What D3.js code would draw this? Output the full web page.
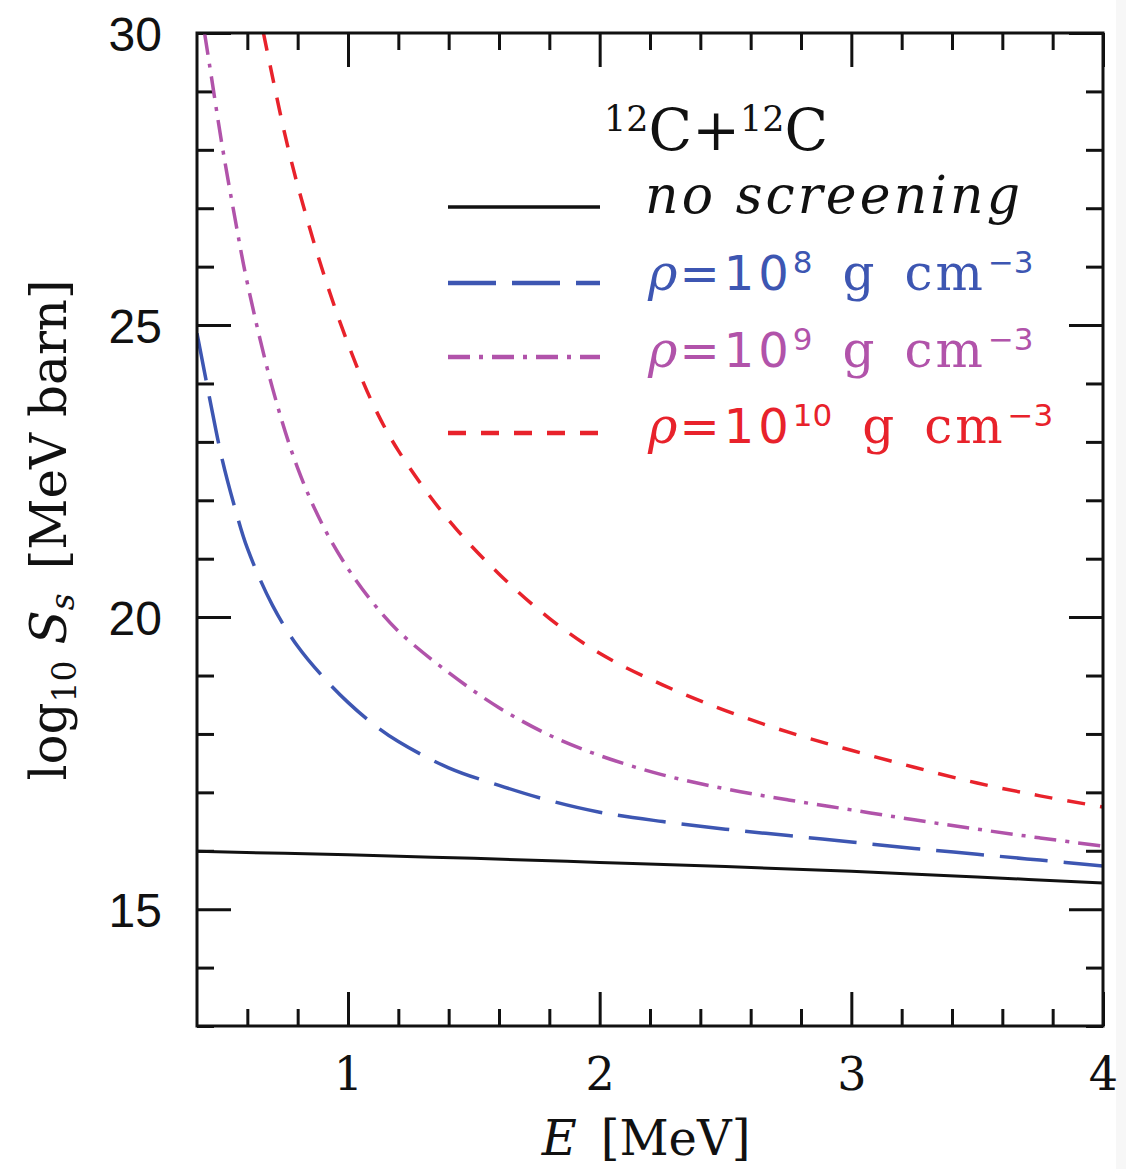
<!DOCTYPE html>
<html>
<head>
<meta charset="utf-8">
<script src="https://cdn.jsdelivr.net/npm/d3@7"></script>
<style>
  body { margin: 0; background: #fff; }
  svg { display: block; }
</style>
</head>
<body>
<svg id="chart" width="1126" height="1169"></svg>
<script>
// Astrophysical S-factor of 12C+12C with and without plasma screening.
// Energies in MeV, values are log10 S_s in MeV barn.
const eNoScreen = [0.4, 1.0, 1.5, 2.0, 2.5, 3.0, 3.5, 4.0];
const sNoScreen = [15.99, 15.93, 15.87, 15.80, 15.73, 15.65, 15.55, 15.45];

const eRho8 = [0.4, 0.45, 0.5, 0.55, 0.6, 0.7, 0.8, 0.9, 1.0, 1.1, 1.2, 1.4, 1.6, 1.8, 2.0, 2.25, 2.5, 2.75, 3.0, 3.25, 3.5, 3.75, 4.0];
const sRho8 = [24.86, 23.75, 22.70, 21.88, 21.18, 20.20, 19.50, 18.98, 18.54, 18.17, 17.87, 17.42, 17.12, 16.86, 16.66, 16.50, 16.37, 16.26, 16.15, 16.04, 15.94, 15.84, 15.74];

const eRho9 = [0.43, 0.45, 0.5, 0.55, 0.6, 0.7, 0.8, 0.9, 1.0, 1.1, 1.2, 1.4, 1.6, 1.8, 2.0, 2.25, 2.5, 2.75, 3.0, 3.25, 3.5, 3.75, 4.0];
const sRho9 = [30.0, 29.45, 28.07, 26.85, 25.72, 23.92, 22.55, 21.57, 20.83, 20.24, 19.76, 19.05, 18.45, 17.98, 17.63, 17.30, 17.06, 16.87, 16.70, 16.53, 16.37, 16.22, 16.08];

const eRho10 = [0.664, 0.7, 0.75, 0.8, 0.9, 1.0, 1.1, 1.2, 1.4, 1.6, 1.8, 2.0, 2.25, 2.5, 2.75, 3.0, 3.25, 3.5, 3.75, 4.0];
const sRho10 = [30.0, 29.25, 28.25, 27.39, 25.92, 24.68, 23.64, 22.85, 21.66, 20.74, 19.98, 19.38, 18.84, 18.40, 18.03, 17.72, 17.43, 17.16, 16.94, 16.75];

// Axis ticks
const xTickLabels = [1, 2, 3, 4];
const xMinorTicks = [0.6, 0.8, 1.2, 1.4, 1.6, 1.8, 2.2, 2.4, 2.6, 2.8, 3.2, 3.4, 3.6, 3.8];
const yTickLabels = [15, 20, 25, 30];
const yMinorTicks = [13, 14, 16, 17, 18, 19, 21, 22, 23, 24, 26, 27, 28, 29];

// Legend entries: density exponents of rho (g cm^-3)
const densityExponents = ["8", "9", "10"];

const SERIF = "'DejaVu Serif', serif";
const SANS = "'Liberation Sans', Arial, sans-serif";
const DSANS = "'DejaVu Sans', sans-serif";

const W = 1126, H = 1169;
const svg = d3.select("#chart");

svg.append("rect").attr("width", W).attr("height", H).attr("fill", "#fff");
svg.append("rect").attr("x", 1116).attr("width", W - 1116).attr("height", H).attr("fill", "#f7f7f7");

const box = { left: 197, right: 1103, top: 33, bottom: 1026 };
const x = d3.scaleLinear().domain([0.4, 4]).range([box.left, box.right]);
const y = d3.scaleLinear().domain([13, 30]).range([box.bottom, box.top]);

const MAJOR = 34, MINOR = 17;

function styleAxis(g) {
  g.select(".domain").remove();
  g.selectAll(".tick line").attr("stroke", "#111").attr("stroke-width", 3);
}

// bottom axis with labels
svg.append("g")
  .attr("transform", `translate(0,${box.bottom})`)
  .call(d3.axisBottom(x).tickValues(xTickLabels).tickSize(-MAJOR).tickPadding(31).tickFormat(d3.format("d")))
  .call(styleAxis)
  .call(g => g.selectAll("text").attr("font-family", SERIF).attr("font-size", 46).attr("fill", "#111"));
svg.append("g")
  .attr("transform", `translate(0,${box.bottom})`)
  .call(d3.axisBottom(x).tickValues(xMinorTicks).tickSize(-MINOR).tickFormat(""))
  .call(styleAxis);

// top axis (ticks only)
svg.append("g")
  .attr("transform", `translate(0,${box.top})`)
  .call(d3.axisTop(x).tickValues(xTickLabels).tickSize(-MAJOR).tickFormat(""))
  .call(styleAxis);
svg.append("g")
  .attr("transform", `translate(0,${box.top})`)
  .call(d3.axisTop(x).tickValues(xMinorTicks).tickSize(-MINOR).tickFormat(""))
  .call(styleAxis);

// left axis with labels
svg.append("g")
  .attr("transform", `translate(${box.left},0)`)
  .call(d3.axisLeft(y).tickValues(yTickLabels).tickSize(-MAJOR).tickPadding(35).tickFormat(d3.format("d")))
  .call(styleAxis)
  .call(g => g.selectAll("text").attr("font-family", SANS).attr("font-size", 48).attr("fill", "#111").attr("dy", "0.36em"));
svg.append("g")
  .attr("transform", `translate(${box.left},0)`)
  .call(d3.axisLeft(y).tickValues(yMinorTicks).tickSize(-MINOR).tickFormat(""))
  .call(styleAxis);

// right axis (ticks only)
svg.append("g")
  .attr("transform", `translate(${box.right},0)`)
  .call(d3.axisRight(y).tickValues(yTickLabels).tickSize(-MAJOR).tickFormat(""))
  .call(styleAxis);
svg.append("g")
  .attr("transform", `translate(${box.right},0)`)
  .call(d3.axisRight(y).tickValues(yMinorTicks).tickSize(-MINOR).tickFormat(""))
  .call(styleAxis);

// curves
const series = [
  { e: eNoScreen, s: sNoScreen, color: "#111111", dash: null, width: 3 },
  { e: eRho8, s: sRho8, color: "#3d56b2", dash: "48,16", width: 3.5 },
  { e: eRho9, s: sRho9, color: "#b153aa", dash: "22,9,4,9", width: 3.5 },
  { e: eRho10, s: sRho10, color: "#e8222b", dash: "18,15", width: 3.5 }
];

svg.append("clipPath").attr("id", "plot-clip")
  .append("rect")
  .attr("x", box.left).attr("y", box.top)
  .attr("width", box.right - box.left).attr("height", box.bottom - box.top);

const line = d3.line()
  .x(d => x(d[0]))
  .y(d => y(d[1]))
  .curve(d3.curveCatmullRom.alpha(0.5));

svg.append("g").attr("clip-path", "url(#plot-clip)")
  .selectAll("path")
  .data(series)
  .join("path")
  .attr("d", d => line(d.e.map((v, i) => [v, d.s[i]])))
  .attr("fill", "none")
  .attr("stroke", d => d.color)
  .attr("stroke-width", d => d.width)
  .attr("stroke-dasharray", d => d.dash);

// frame
svg.append("rect")
  .attr("x", box.left).attr("y", box.top)
  .attr("width", box.right - box.left).attr("height", box.bottom - box.top)
  .attr("fill", "none").attr("stroke", "#111").attr("stroke-width", 3);

// legend title: 12C + 12C
const title = svg.append("text")
  .attr("x", 604).attr("y", 150)
  .attr("font-family", SERIF).attr("font-size", 57).attr("fill", "#111");
title.append("tspan").attr("font-size", 35).attr("dy", -19).text("12");
title.append("tspan").attr("dy", 19).text("C+");
title.append("tspan").attr("font-size", 35).attr("dy", -19).text("12");
title.append("tspan").attr("dy", 19).text("C");

// legend rows
const legendY = [207, 283, 357, 433];
const legendBase = [213, 290, 367, 443];
const legend = svg.append("g");

series.forEach((d, i) => {
  legend.append("line")
    .attr("x1", 448).attr("x2", 600)
    .attr("y1", legendY[i]).attr("y2", legendY[i])
    .attr("stroke", d.color)
    .attr("stroke-width", i === 0 ? 3.5 : 4.5)
    .attr("stroke-dasharray", d.dash);
});

legend.append("text")
  .attr("x", 645).attr("y", legendBase[0])
  .attr("font-family", SERIF).attr("font-style", "italic").attr("font-size", 52)
  .attr("fill", "#111")
  .attr("textLength", 375).attr("lengthAdjust", "spacing")
  .text("no screening");

densityExponents.forEach((exp, k) => {
  const d = series[k + 1];
  const yb = legendBase[k + 1];
  const t1 = legend.append("text").attr("x", 648).attr("y", yb).attr("fill", d.color);
  t1.append("tspan").attr("font-family", SERIF).attr("font-style", "italic").attr("font-size", 50).text("ρ");
  t1.append("tspan").attr("font-family", DSANS).attr("font-size", 48).attr("letter-spacing", 4).attr("dx", 2).text("=10");
  t1.append("tspan").attr("font-family", DSANS).attr("font-size", 31).attr("dy", -17).attr("dx", 0).text(exp);
  const b1 = t1.node().getBBox();

  const t2 = legend.append("text").attr("x", b1.x + b1.width + 30).attr("y", yb)
    .attr("fill", d.color).attr("font-family", SERIF).attr("font-size", 50).text("g");
  const b2 = t2.node().getBBox();

  const t3 = legend.append("text").attr("x", b2.x + b2.width + 30).attr("y", yb).attr("fill", d.color);
  t3.append("tspan").attr("font-family", SERIF).attr("font-size", 50).attr("letter-spacing", 3).text("cm");
  t3.append("tspan").attr("font-family", DSANS).attr("font-size", 31).attr("dy", -17).attr("dx", 2).text("−3");
});

// axis titles
const xt = svg.append("text")
  .attr("x", 646).attr("y", 1155).attr("text-anchor", "middle")
  .attr("font-family", SERIF).attr("font-size", 48).attr("fill", "#111");
xt.append("tspan").attr("font-style", "italic").text("E");
xt.append("tspan").attr("dx", 24).text("[MeV]");

const yt = svg.append("text")
  .attr("transform", "translate(66,530) rotate(-90)")
  .attr("text-anchor", "middle")
  .attr("font-family", SERIF).attr("font-size", 50).attr("fill", "#111");
yt.append("tspan").text("log");
yt.append("tspan").attr("font-size", 33).attr("dy", 10).text("10");
yt.append("tspan").attr("font-style", "italic").attr("dy", -10).attr("dx", 16).text("S");
yt.append("tspan").attr("font-style", "italic").attr("font-size", 33).attr("dy", 8).text("s");
yt.append("tspan").attr("dy", -8).attr("dx", 24).text("[MeV barn]");
</script>
</body>
</html>
